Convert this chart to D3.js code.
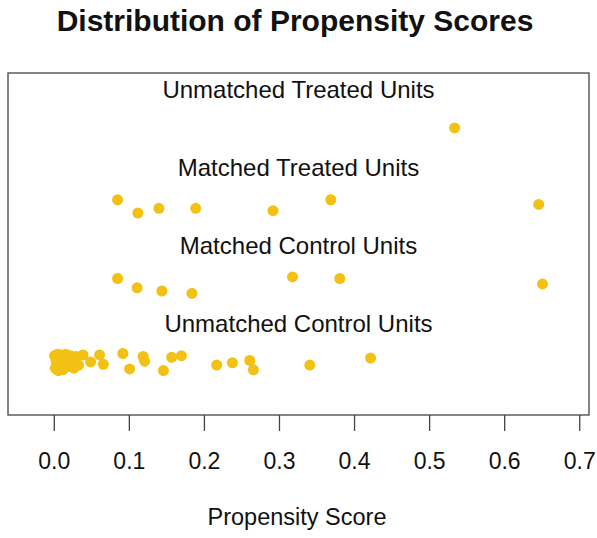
<!DOCTYPE html>
<html>
<head>
<meta charset="utf-8">
<script src="https://cdn.jsdelivr.net/npm/d3@7"></script>
<style>
  body { margin: 0; background: #fff; }
  svg text { font-family: "Liberation Sans", Arial, sans-serif; fill: #111; }
</style>
</head>
<body>
<div id="chart"></div>
<script>
var margin = {top: 73, right: 8, bottom: 123, left: 8},
    width = 597 - margin.left - margin.right,
    height = 538 - margin.top - margin.bottom;

// group rows (y level) and their labels
var groups = ["Unmatched Control Units", "Matched Control Units", "Matched Treated Units", "Unmatched Treated Units"];
var groupLevels = [1, 2, 3, 4];

var xTicks = [0.0, 0.1, 0.2, 0.3, 0.4, 0.5, 0.6, 0.7];

// propensity scores and jittered y position, one pair of arrays per group
var unmatchedTreatedScore = [0.534];
var unmatchedTreatedY     = [4.00];

var matchedTreatedScore = [0.085, 0.112, 0.140, 0.189, 0.292, 0.369, 0.646];
var matchedTreatedY     = [3.08, 2.91, 2.97, 2.97, 2.94, 3.08, 3.02];

var matchedControlScore = [0.085, 0.111, 0.144, 0.184, 0.318, 0.381, 0.651];
var matchedControlY     = [2.07, 1.95, 1.91, 1.88, 2.09, 2.07, 2.00];

var unmatchedControlScore = [0.001, 0.002, 0.003, 0.004, 0.005, 0.006, 0.007, 0.008, 0.009, 0.010,
                             0.011, 0.012, 0.013, 0.015, 0.016, 0.018, 0.020, 0.022, 0.024, 0.027,
                             0.030, 0.033,
                             0.039, 0.049, 0.061, 0.066, 0.092, 0.101, 0.119, 0.121, 0.157, 0.170,
                             0.146, 0.217, 0.238, 0.261, 0.266, 0.341, 0.422];
var unmatchedControlY     = [1.08, 0.92, 1.02, 0.96, 1.10, 0.89, 1.05, 0.99, 0.93, 1.09,
                             1.01, 0.90, 1.06, 0.97, 1.10, 0.94, 1.03, 1.08, 0.98, 0.92,
                             1.07, 0.96,
                             1.09, 1.00, 1.09, 0.97, 1.11, 0.91, 1.07, 1.01, 1.06, 1.08,
                             0.89, 0.96, 0.99, 1.02, 0.90, 0.96, 1.05];

var pointColor = "#f3c114";

function pairs(xs, ys) {
    return xs.map(function(v, i) { return [v, ys[i]]; });
}
var allPoints = [].concat(
    pairs(unmatchedControlScore, unmatchedControlY),
    pairs(matchedControlScore, matchedControlY),
    pairs(matchedTreatedScore, matchedTreatedY),
    pairs(unmatchedTreatedScore, unmatchedTreatedY)
);

var svgRoot = d3.select("#chart").append("svg")
    .attr("width", 597)
    .attr("height", 538);

var svg = svgRoot.append("g")
    .attr("transform", "translate(" + margin.left + "," + margin.top + ")");

var xScale = d3.scaleLinear().domain([-0.061, 0.713]).range([0, width]);
var yScale = d3.scaleLinear().domain([0.32, 4.705]).range([height, 0]);

// title
svgRoot.append("text")
    .attr("x", 295)
    .attr("y", 31)
    .attr("text-anchor", "middle")
    .style("font-size", "30px")
    .style("font-weight", "bold")
    .text("Distribution of Propensity Scores");

// points
svg.selectAll(".pt")
    .data(allPoints)
    .enter()
    .append("circle")
    .attr("class", "pt")
    .attr("cx", function(d) { return xScale(d[0]); })
    .attr("cy", function(d) { return yScale(d[1]); })
    .attr("r", 5.5)
    .style("fill", pointColor);

// group labels
svg.selectAll(".glabel")
    .data(groups)
    .enter()
    .append("text")
    .attr("class", "glabel")
    .attr("x", width / 2)
    .attr("y", function(d, i) { return yScale(groupLevels[i] + 0.49); })
    .attr("dy", "0.35em")
    .attr("text-anchor", "middle")
    .style("font-size", "24px")
    .text(function(d) { return d; });

// box
svg.append("rect")
    .attr("width", width)
    .attr("height", height)
    .attr("fill", "none")
    .attr("stroke", "#444")
    .attr("stroke-width", 1.3);

// x-axis
var xAxis = svg.append("g")
    .attr("transform", "translate(0," + height + ")")
    .call(d3.axisBottom(xScale).tickValues(xTicks).tickFormat(d3.format(".1f")).tickSize(16).tickPadding(22));
xAxis.select(".domain").remove();
xAxis.selectAll("line").attr("stroke", "#444").attr("stroke-width", 1.3);
xAxis.selectAll("text").style("font-size", "23px").attr("fill", "#111")
    .style("font-family", "'Liberation Sans', Arial, sans-serif");

// x-axis label
svgRoot.append("text")
    .attr("x", 297)
    .attr("y", 525)
    .attr("text-anchor", "middle")
    .style("font-size", "23.5px")
    .text("Propensity Score");
</script>
</body>
</html>
